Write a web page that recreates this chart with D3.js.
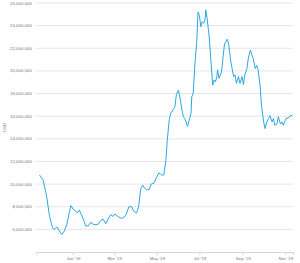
<!DOCTYPE html>
<html>
<head>
<meta charset="utf-8">
<title>USD line</title>
<script src="https://d3js.org/d3.v7.min.js"></script>
<style>
  body { margin: 0; background: #fff; }
  svg text { font-family: "Liberation Sans", Arial, sans-serif; fill: #777; }
</style>
</head>
<body>
<div id="chart"></div>
<script>
const width = 300;
const height = 263;

// readings taken off the chart (USD)
var dates = [
  "2018-11-14","2018-11-19","2018-11-24","2018-11-28","2018-12-01","2018-12-03","2018-12-05","2018-12-09",
  "2018-12-12","2018-12-16","2018-12-19","2018-12-23","2018-12-27","2018-12-29","2019-01-01","2019-01-05",
  "2019-01-07","2019-01-10","2019-01-13","2019-01-17","2019-01-19","2019-01-23","2019-01-26","2019-01-30",
  "2019-02-03","2019-02-06","2019-02-10","2019-02-13","2019-02-17","2019-02-21","2019-02-24","2019-02-27",
  "2019-03-02","2019-03-06","2019-03-10","2019-03-14","2019-03-18","2019-03-22","2019-03-26","2019-03-29",
  "2019-04-02","2019-04-05","2019-04-08","2019-04-11","2019-04-13","2019-04-16","2019-04-20","2019-04-23",
  "2019-04-27","2019-05-01","2019-05-04","2019-05-08","2019-05-11","2019-05-14","2019-05-16","2019-05-19",
  "2019-05-21","2019-05-24","2019-05-27","2019-05-29","2019-06-01","2019-06-03","2019-06-06","2019-06-08",
  "2019-06-10","2019-06-14","2019-06-17","2019-06-19","2019-06-20","2019-06-22","2019-06-25","2019-06-27",
  "2019-06-29","2019-07-01","2019-07-03","2019-07-05","2019-07-07","2019-07-09","2019-07-10","2019-07-12",
  "2019-07-15","2019-07-17","2019-07-20","2019-07-22","2019-07-24","2019-07-26","2019-07-27","2019-07-29",
  "2019-08-01","2019-08-02","2019-08-04","2019-08-06","2019-08-10","2019-08-12","2019-08-15","2019-08-19",
  "2019-08-21","2019-08-23","2019-08-26","2019-08-28","2019-08-31","2019-09-02","2019-09-04","2019-09-07",
  "2019-09-09","2019-09-12","2019-09-14","2019-09-16","2019-09-19","2019-09-21","2019-09-23","2019-09-26",
  "2019-09-28","2019-10-01","2019-10-03","2019-10-05","2019-10-08","2019-10-10","2019-10-13","2019-10-15",
  "2019-10-17","2019-10-20","2019-10-22","2019-10-25","2019-10-27","2019-10-29","2019-11-01","2019-11-03",
  "2019-11-05","2019-11-08","2019-11-11"
];
var values = [
  10.8, 10.4, 9.0, 7.3, 6.5, 6.1, 6.0, 6.2,
  5.9, 5.55, 5.8, 6.4, 7.6, 8.1, 7.8, 7.6,
  7.45, 7.7, 7.3, 6.7, 6.3, 6.3, 6.6, 6.45,
  6.4, 6.45, 6.8, 6.9, 6.5, 7.0, 7.3, 7.15,
  7.35, 7.15, 7.0, 7.0, 7.3, 8.0, 8.0, 7.6,
  7.45, 8.0, 9.6, 9.9, 9.7, 9.5, 9.5, 10.0,
  10.1, 10.65, 11.0, 10.8, 10.8, 12.1, 13.9, 15.8,
  16.25, 16.55, 16.85, 17.9, 18.3, 17.7, 16.55, 15.95,
  15.8, 15.1, 15.8, 16.25, 17.7, 18.0, 21.0, 22.4,
  25.2, 24.9, 23.9, 24.35, 24.2, 24.5, 25.4, 24.65,
  23.0, 21.25, 18.75, 19.2, 19.05, 19.5, 20.1, 19.35,
  19.8, 20.1, 21.3, 22.4, 22.8, 22.3, 20.8, 19.5,
  19.65, 18.9, 19.5, 18.9, 19.5, 18.8, 19.65, 20.2,
  21.1, 21.85, 21.45, 21.1, 20.2, 20.5, 20.1, 18.6,
  16.85, 15.5, 14.9, 15.4, 15.8, 16.05, 15.5, 15.8,
  15.2, 15.3, 15.95, 15.3, 15.5, 15.2, 15.65, 15.85,
  15.8, 16.05, 16.05
].map(v => v * 1e6);

var yTicks = [6e6, 8e6, 10e6, 12e6, 14e6, 16e6, 18e6, 20e6, 22e6, 24e6, 26e6];
var xTicks = ["2019-01-01","2019-03-01","2019-05-01","2019-07-01","2019-09-01","2019-11-01"];
var yTitle = "USD";

var parse = d3.timeParse("%Y-%m-%d");
var data = dates.map((d, i) => ({ date: parse(d), value: values[i] }));

var margin = { left: 36, right: 7, top: 3, bottom: 11 };

var svg = d3.select("#chart").append("svg").attr("width", width).attr("height", height);

var x = d3.scaleTime()
  .domain([parse("2018-11-09"), parse("2019-11-12")])
  .range([margin.left, width - margin.right]);
var y = d3.scaleLinear()
  .domain([4e6, 26e6])
  .range([height - margin.bottom, margin.top]);

// gridlines
svg.append("g")
  .selectAll("line")
  .data(yTicks)
  .enter().append("line")
  .attr("x1", margin.left).attr("x2", width - margin.right)
  .attr("y1", d => y(d)).attr("y2", d => y(d))
  .attr("stroke", "#e6e6e6").attr("stroke-width", 1);

// y labels
var fmt = d3.format(",");
svg.append("g")
  .selectAll("text")
  .data(yTicks)
  .enter().append("text")
  .attr("x", 32)
  .attr("y", d => y(d) + 1.5)
  .attr("text-anchor", "end")
  .style("font-size", "4.4px")
  .text(d => fmt(d));

svg.append("text")
  .attr("transform", "translate(6," + y(15e6) + ") rotate(-90)")
  .attr("text-anchor", "middle")
  .style("font-size", "4.4px")
  .text(yTitle);

// x axis
var xAxis = d3.axisBottom(x)
  .tickValues(xTicks.map(parse))
  .tickFormat(d3.timeFormat("%b '%y"))
  .tickSize(3)
  .tickPadding(1.5);

var gx = svg.append("g")
  .attr("transform", "translate(0," + (height - margin.bottom) + ")")
  .call(xAxis);
gx.select(".domain").attr("stroke", "#ccd6eb");
gx.selectAll(".tick line").attr("stroke", "#ccd6eb");
gx.selectAll(".tick text").style("font-size", "4.4px").attr("fill", "#777")
  .style("font-family", "'Liberation Sans', Arial, sans-serif");

// line
var line = d3.line()
  .x(d => x(d.date))
  .y(d => y(d.value));

svg.append("path")
  .datum(data)
  .attr("d", line)
  .attr("fill", "none")
  .attr("stroke", "#2ba8df")
  .attr("stroke-width", 1)
  .attr("stroke-linejoin", "round");
</script>
</body>
</html>
